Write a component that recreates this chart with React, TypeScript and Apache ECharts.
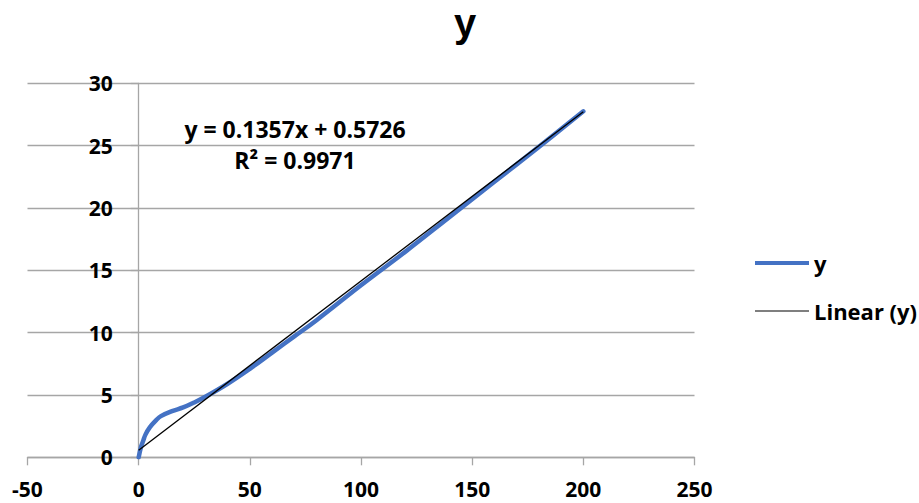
import React, { useEffect, useRef } from "react";
import * as echarts from "echarts";

const xValues = [0, 1, 2, 3, 5, 8, 10, 15, 20, 25, 30, 40, 50, 60, 70, 80, 100, 120, 140, 160, 180, 200];
const yValues = [0.0, 0.8, 1.3, 1.8, 2.4, 3.0, 3.3, 3.7, 4.0, 4.4, 4.85, 5.9, 7.1, 8.4, 9.7, 11.0, 13.8, 16.5, 19.3, 22.1, 24.9, 27.75];
const trendX = [0, 200];
const trendY = [0.5726, 27.7126];
const equationLines = ["y = 0.1357x + 0.5726", "R² = 0.9971"];
const seriesNames = ["y", "Linear (y)"];

const FONT = "'Open Sans', Lato, sans-serif";

export default function App() {
  const ref = useRef<HTMLDivElement>(null);
  useEffect(() => {
    document.body.style.margin = "0";
    const chart = echarts.init(ref.current!, null, { renderer: "svg" });
    const lineData = xValues.map((x, i) => [x, yValues[i]]);
    const trendData = trendX.map((x, i) => [x, trendY[i]]);
    const legendText = { fontFamily: FONT, fontWeight: "bold", fontSize: 22, color: "#000" };
    const gridLeft = 27.5;
    const gridRight = 224.5;
    const plotWidth = 919 - gridLeft - gridRight;
    const yAxisShift = (plotWidth * 50) / 300;
    chart.setOption({
      animation: false,
      backgroundColor: "#fff",
      title: {
        text: "y",
        left: 465,
        top: 3,
        padding: 0,
        textAlign: "center",
        textStyle: { fontFamily: "'Liberation Sans', Arial, sans-serif", fontWeight: "bold", fontSize: 40, color: "#000" },
      },
      grid: { left: gridLeft, right: gridRight, top: 83.3, bottom: 45.7, containLabel: false, outerBoundsMode: "none" },
      xAxis: {
        type: "value",
        min: -50,
        max: 250,
        interval: 50,
        axisLine: { onZero: true, lineStyle: { color: "#a6a6a6", width: 1.3 } },
        axisTick: { show: true, length: 8, inside: false, lineStyle: { color: "#a6a6a6", width: 1.3 } },
        axisLabel: { margin: 21, fontFamily: FONT, fontWeight: "bold", fontSize: 21, color: "#000" },
        splitLine: { show: false },
      },
      yAxis: {
        type: "value",
        min: 0,
        max: 30,
        interval: 5,
        offset: -yAxisShift,
        axisLine: { show: true, onZero: false, lineStyle: { color: "#a6a6a6", width: 1.3 } },
        axisTick: { show: true, length: 8, lineStyle: { color: "#a6a6a6", width: 1.3 } },
        axisLabel: { margin: 26, fontFamily: FONT, fontWeight: "bold", fontSize: 21, color: "#000" },
        splitLine: { show: true, lineStyle: { color: "#a6a6a6", width: 1.3 } },
      },
      legend: [
        {
          data: [{ name: seriesNames[0], icon: "rect" }],
          left: 755,
          top: 252,
          padding: 0,
          itemWidth: 54,
          itemHeight: 4,
          itemGap: 6,
          textStyle: legendText,
        },
        {
          data: [{ name: seriesNames[1], icon: "rect" }],
          left: 755,
          top: 300,
          padding: 0,
          itemWidth: 54,
          itemHeight: 1.2,
          itemGap: 6,
          textStyle: legendText,
        },
      ],
      graphic: [
        {
          type: "text",
          x: 295,
          y: 129,
          style: {
            text: equationLines[0],
            fontFamily: FONT,
            fontWeight: "bold",
            fontSize: 23,
            fill: "#000",
            align: "center",
            verticalAlign: "middle",
          },
        },
        {
          type: "text",
          x: 295,
          y: 160,
          style: {
            text: equationLines[1],
            fontFamily: FONT,
            fontWeight: "bold",
            fontSize: 23,
            fill: "#000",
            align: "center",
            verticalAlign: "middle",
          },
        },
      ],
      series: [
        {
          name: seriesNames[0],
          type: "line",
          data: lineData,
          smooth: 0.4,
          showSymbol: false,
          symbol: "none",
          lineStyle: { color: "#4472C4", width: 4.5, cap: "round" },
          itemStyle: { color: "#4472C4" },
          z: 2,
        },
        {
          name: seriesNames[1],
          type: "line",
          data: trendData,
          showSymbol: false,
          symbol: "none",
          lineStyle: { color: "#000", width: 1.3 },
          itemStyle: { color: "#000" },
          z: 3,
        },
      ],
    });
    return () => chart.dispose();
  }, []);
  return <div ref={ref} style={{ width: 919, height: 503 }} />;
}
